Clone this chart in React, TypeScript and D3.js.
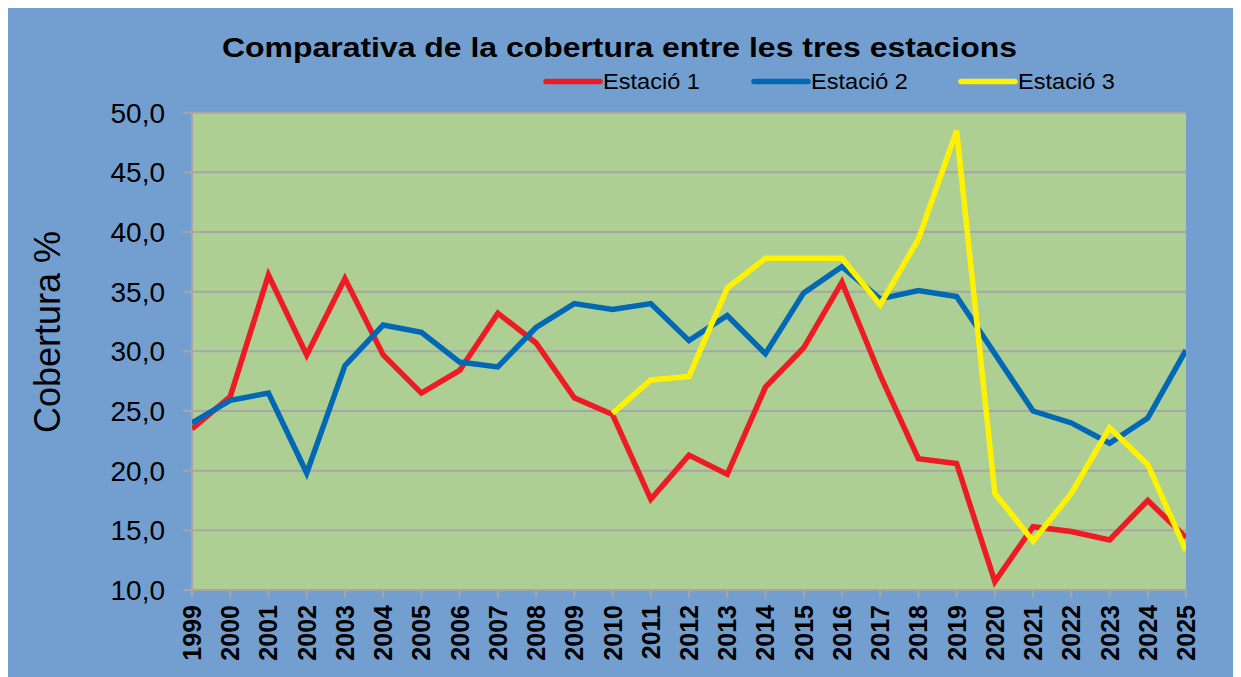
import React, { useEffect, useRef } from "react";
import * as d3 from "d3";

const years = [
  1999, 2000, 2001, 2002, 2003, 2004, 2005, 2006, 2007, 2008, 2009, 2010, 2011,
  2012, 2013, 2014, 2015, 2016, 2017, 2018, 2019, 2020, 2021, 2022, 2023, 2024, 2025,
];
const estacio1 = [
  23.5, 26.2, 36.4, 29.7, 36.1, 29.7, 26.5, 28.4, 33.2, 30.7, 26.1, 24.7, 17.6,
  21.3, 19.7, 27.0, 30.3, 35.8, 28.0, 21.0, 20.6, 10.7, 15.3, 14.9, 14.2, 17.5, 14.4,
];
const estacio2 = [
  24.0, 25.9, 26.5, 19.8, 28.8, 32.2, 31.6, 29.1, 28.7, 32.0, 34.0, 33.5, 34.0,
  30.9, 33.0, 29.8, 34.9, 37.1, 34.4, 35.1, 34.6, 29.8, 25.0, 24.0, 22.3, 24.4, 30.1,
];
// Estació 3 starts in 2010
const estacio3 = [
  null, null, null, null, null, null, null, null, null, null, null, 24.8, 27.6,
  27.9, 35.3, 37.8, 37.8, 37.8, 33.9, 39.4, 48.5, 18.1, 14.1, 18.1, 23.6, 20.5, 13.3,
];
const yTicks = [10, 15, 20, 25, 30, 35, 40, 45, 50];
const seriesNames = ["Estació 1", "Estació 2", "Estació 3"];
const seriesColors = ["#ed1c24", "#0068b4", "#fff200"];

export default function App() {
  const ref = useRef<SVGSVGElement>(null);

  useEffect(() => {
    const svg = d3.select(ref.current);
    svg.selectAll("*").remove();
    const g = svg.append("g").attr("transform", "translate(-8,-8)");

    const left = 192, right = 1186, top = 112.7, bottom = 590;
    const font = "'Liberation Sans', Arial, sans-serif";

    g.append("rect").attr("x", 8).attr("y", 8).attr("width", 1233).attr("height", 669).attr("fill", "#729fcf");

    const x = d3.scaleLinear().domain([years[0], years[years.length - 1]]).range([left, right]);
    const y = d3.scaleLinear().domain([10, 50]).range([bottom, top]);

    g.append("rect").attr("x", left).attr("y", top).attr("width", right - left).attr("height", bottom - top).attr("fill", "#aecf94");

    // grid
    g.selectAll(".grid").data(yTicks.filter(t => t > 10)).join("line")
      .attr("x1", left).attr("x2", right)
      .attr("y1", d => y(d)).attr("y2", d => y(d))
      .attr("stroke", "#a6a6a6").attr("stroke-width", 2);

    // y axis
    g.append("line").attr("x1", left).attr("x2", left).attr("y1", top).attr("y2", bottom).attr("stroke", "#a6a6a6").attr("stroke-width", 2);
    g.selectAll(".ytick").data(yTicks).join("line")
      .attr("x1", left - 9).attr("x2", left).attr("y1", d => y(d)).attr("y2", d => y(d))
      .attr("stroke", "#a6a6a6").attr("stroke-width", 2);
    g.selectAll(".ylab").data(yTicks).join("text")
      .attr("x", 165).attr("y", d => y(d) + 10)
      .attr("text-anchor", "end").attr("font-family", font).attr("font-size", 28).attr("fill", "#000")
      .text(d => d3.format(".1f")(d).replace(".", ","));

    // x axis
    g.append("line").attr("x1", left).attr("x2", right).attr("y1", bottom).attr("y2", bottom).attr("stroke", "#a6a6a6").attr("stroke-width", 2);
    g.selectAll(".xtick").data(years).join("line")
      .attr("x1", d => x(d)).attr("x2", d => x(d)).attr("y1", bottom).attr("y2", bottom + 8)
      .attr("stroke", "#a6a6a6").attr("stroke-width", 2);
    g.selectAll(".xlab").data(years).join("text")
      .attr("transform", d => `translate(${x(d) + 9},${bottom + 15}) rotate(-90)`)
      .attr("text-anchor", "end").attr("font-family", font).attr("font-weight", "bold")
      .attr("font-size", 25).attr("fill", "#000")
      .text(d => String(d));

    // y title
    g.append("text")
      .attr("transform", `translate(60,332) rotate(-90)`)
      .attr("text-anchor", "middle").attr("font-family", font).attr("font-size", 36).attr("fill", "#000")
      .text("Cobertura %");

    // title
    g.append("text").attr("x", 222).attr("y", 57)
      .attr("textLength", 795).attr("lengthAdjust", "spacingAndGlyphs")
      .attr("font-family", font).attr("font-weight", "bold").attr("font-size", 28).attr("fill", "#000")
      .text("Comparativa de la cobertura entre les tres estacions");

    // lines
    const clip = g.append("clipPath").attr("id", "plotclip");
    clip.append("rect").attr("x", left).attr("y", top - 20).attr("width", right - left).attr("height", bottom - top + 20);

    const all = [estacio1, estacio2, estacio3];
    const line = d3.line<number | null>()
      .defined(d => d !== null)
      .x((_, i) => x(years[i]))
      .y(d => y(d as number));

    all.forEach((s, i) => {
      g.append("path").attr("d", line(s) as string)
        .attr("fill", "none").attr("stroke", seriesColors[i]).attr("stroke-width", 5.5)
        .attr("stroke-linejoin", "miter").attr("clip-path", "url(#plotclip)");
    });

    // legend
    const legX = [546, 754, 961];
    seriesNames.forEach((name, i) => {
      g.append("line").attr("x1", legX[i]).attr("x2", legX[i] + 54).attr("y1", 81.5).attr("y2", 81.5)
        .attr("stroke", seriesColors[i]).attr("stroke-width", 5.5).attr("stroke-linecap", "round");
      g.append("text").attr("x", legX[i] + 57).attr("y", 89)
        .attr("textLength", 97).attr("lengthAdjust", "spacingAndGlyphs")
        .attr("font-family", font).attr("font-size", 22.5).attr("fill", "#000")
        .text(name);
    });
  }, []);

  return <svg ref={ref} width={1233} height={669} style={{ display: "block" }} />;
}
